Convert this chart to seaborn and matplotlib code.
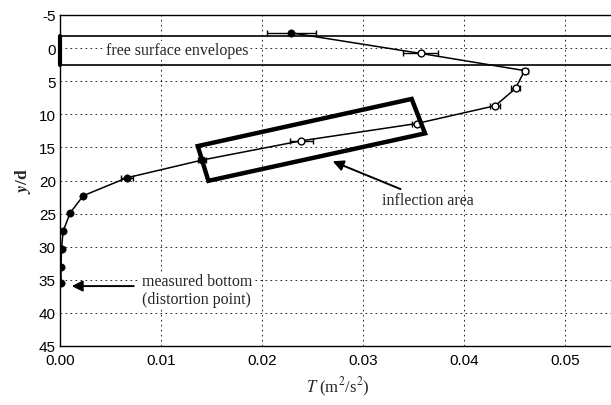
import numpy as np
import pandas as pd
import matplotlib
matplotlib.use("Agg")
import matplotlib.pyplot as plt
import seaborn as sns
from matplotlib.patches import Polygon

# ---- data ----
T_vals = [0.0229, 0.0357, 0.0460, 0.0451, 0.0431, 0.0353, 0.0239, 0.0141,
          0.0066, 0.0023, 0.0010, 0.0003, 0.00015, 0.0001, 0.0001]
yd_vals = [-2.3, 0.8, 3.4, 6.1, 8.7, 11.4, 14.0, 16.9,
           19.6, 22.3, 24.9, 27.7, 30.4, 33.1, 35.5]
T_err = [0.0024, 0.0017, 0.0003, 0.0004, 0.0005, 0.0004, 0.0011, 0.0004,
         0.0006, 0.0, 0.0, 0.0, 0.0, 0.0, 0.0]
filled = [True, False, False, False, False, False, False, True,
          True, True, True, True, True, True, True]
envelopes = [-1.8, 2.5]
xticks = [0.00, 0.01, 0.02, 0.03, 0.04, 0.05]
xtick_labels = ["0.00", "0.01", "0.02", "0.03", "0.04", "0.05"]
yticks = [-5, 0, 5, 10, 15, 20, 25, 30, 35, 40, 45]
ytick_labels = ["-5", "0", "5", "10", "15", "20", "25", "30", "35", "40", "45"]
rect_corners = [(0.01364, 14.8), (0.03482, 7.68), (0.03614, 12.88), (0.01469, 20.05)]

df = pd.DataFrame({"T": T_vals, "yd": yd_vals, "err": T_err, "filled": filled})

sns.set_style("white")
plt.rcParams["mathtext.fontset"] = "stix"
plt.rcParams["axes.unicode_minus"] = False

fig = plt.figure(figsize=(6.11, 4.06), dpi=100)
ax = fig.add_axes([60 / 611, 1 - 347 / 406, 555.5 / 611, 331 / 406])

# grid
for xv in xticks[1:]:
    ax.axvline(xv, color="black", lw=0.6, ls=(0, (2, 4)), zorder=0)
for yv in yticks[1:-1]:
    ax.axhline(yv, color="black", lw=0.6, ls=(0, (2, 4)), zorder=0)

# envelopes
for e in envelopes:
    ax.axhline(e, color="black", lw=1.2, zorder=1)
ax.plot([0, 0], envelopes, color="black", lw=3, zorder=3, clip_on=False)

# profile line
sns.lineplot(data=df, x="T", y="yd", sort=False, estimator=None, color="black",
             lw=1.1, ax=ax, zorder=4)
ax.errorbar(df["T"], df["yd"], xerr=df["err"], fmt="none", ecolor="black",
            elinewidth=1.0, capsize=2.5, capthick=1.0, zorder=4)
sns.scatterplot(data=df[df["filled"]], x="T", y="yd", color="black", s=28,
                marker="o", edgecolor="black", ax=ax, zorder=5)
sns.scatterplot(data=df[~df["filled"]], x="T", y="yd", color="white", s=24,
                marker="o", edgecolor="black", linewidth=1.0, ax=ax, zorder=5)

# inflection rectangle
ax.add_patch(Polygon(rect_corners, closed=True, fill=False, ec="black", lw=3.2, zorder=6))

serif = ["Liberation Serif", "DejaVu Serif"]
ax.text(0.0116, 0.3, "free surface envelopes", fontsize=11.5, family=serif,
        ha="center", va="center", zorder=7,
        bbox=dict(facecolor="white", edgecolor="none", pad=1))
ax.annotate("inflection area", xy=(0.0270, 17.1), xytext=(0.0319, 23.0),
            fontsize=11.5, family=serif, ha="left", va="center",
            arrowprops=dict(arrowstyle="-|>", color="black", lw=1.4,
                            mutation_scale=16, shrinkA=0, shrinkB=0))
ax.annotate("", xy=(0.00116, 35.95), xytext=(0.0073, 35.95),
            arrowprops=dict(arrowstyle="-|>", color="black", lw=1.4,
                            mutation_scale=16, shrinkA=0, shrinkB=0))
ax.text(0.0081, 36.6, "measured bottom\n(distortion point)", fontsize=11.5,
        family=serif, ha="left", va="center", linespacing=1.15,
        bbox=dict(facecolor="white", edgecolor="none", pad=1))

ax.set_xlim(0, 0.055)
ax.set_ylim(45, -5)
ax.set_xticks(xticks)
ax.set_xticklabels(xtick_labels)
ax.set_yticks(yticks)
ax.set_yticklabels(ytick_labels)
for lab in ax.get_xticklabels() + ax.get_yticklabels():
    lab.set_family(["Liberation Sans", "DejaVu Sans"])
    lab.set_fontsize(11)
ax.tick_params(direction="in", length=4, width=0.8, colors="black", pad=3)
ax.tick_params(axis="x", pad=5)
for s in ax.spines.values():
    s.set_color("black")
    s.set_linewidth(1.0)

ax.set_xlabel(r"$T$ (m$^{2}$/s$^{2}$)", fontsize=12, family=serif, labelpad=6)
ax.set_ylabel(r"$\boldsymbol{y}$/d", fontsize=12.5, family=serif, labelpad=4,
              fontweight="bold")

fig.savefig("out.png", dpi=100)
